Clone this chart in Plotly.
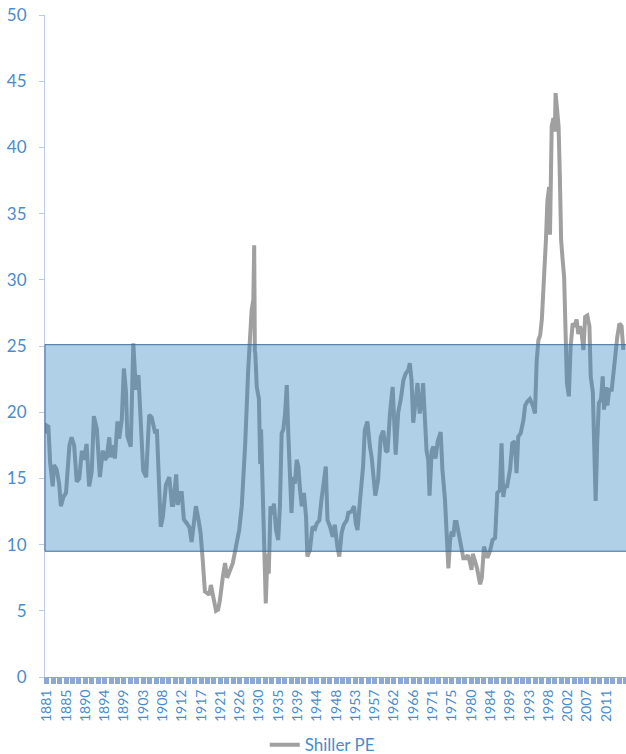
import plotly.graph_objects as go

# Shiller cyclically adjusted P/E, decimal year -> ratio
years = [
    1881.0, 1881.3, 1881.8, 1882.2, 1882.8, 1883.1, 1883.7, 1884.0, 1884.3, 1884.7,
    1885.3, 1885.9, 1886.7, 1887.2, 1887.8, 1888.4, 1889.0, 1889.6, 1890.1, 1890.7,
    1891.3, 1891.9, 1892.4, 1893.1, 1893.8, 1894.5, 1895.0, 1895.4, 1896.0, 1896.3,
    1896.8, 1897.3, 1897.9, 1898.3, 1898.9, 1899.4, 1899.9, 1900.2, 1901.0, 1901.6,
    1902.2, 1902.8, 1903.2, 1903.9, 1904.6, 1905.3, 1905.9, 1906.4, 1906.7, 1907.1,
    1907.4, 1908.0, 1908.5, 1909.2, 1910.0, 1910.6, 1910.9, 1911.6, 1911.95, 1912.5,
    1912.9, 1913.4, 1914.1, 1914.7, 1915.2, 1915.8, 1916.2, 1916.8, 1917.3, 1917.8,
    1918.3, 1919.0, 1919.3, 1919.7, 1920.3, 1920.9, 1921.4, 1921.8, 1922.5, 1923.0,
    1923.5, 1924.2, 1924.8, 1925.7, 1926.3, 1926.9, 1927.7, 1928.4, 1929.2, 1929.6,
    1929.8, 1929.95, 1930.05, 1930.4, 1930.9, 1931.2, 1931.4, 1931.8, 1932.2, 1932.5,
    1932.9, 1933.2, 1933.6, 1934.1, 1934.4, 1934.9, 1935.4, 1935.8, 1936.2, 1936.6,
    1937.0, 1937.4, 1937.75, 1938.15, 1938.5, 1938.9, 1939.3, 1939.7, 1940.1, 1940.5,
    1940.9, 1941.4, 1941.9, 1942.2, 1942.8, 1943.4, 1944.0, 1944.4, 1945.0, 1945.5,
    1946.1, 1946.5, 1946.9, 1947.5, 1948.1, 1948.6, 1949.2, 1949.65, 1950.2, 1950.7,
    1951.4, 1951.75, 1952.5, 1953.1, 1953.5, 1953.9, 1954.5, 1955.2, 1955.6, 1956.2,
    1956.8, 1957.2, 1958.05, 1958.7, 1959.3, 1959.9, 1960.5, 1960.9, 1961.5, 1962.1,
    1962.8, 1963.4, 1964.0, 1964.6, 1965.1, 1965.75, 1966.1, 1966.5, 1966.9, 1967.5,
    1967.9, 1968.4, 1968.9, 1969.2, 1969.6, 1970.0, 1970.4, 1970.7, 1971.2, 1971.6,
    1972.1, 1972.6, 1973.3, 1973.7, 1974.3, 1974.7, 1975.1, 1975.5, 1975.9, 1976.25,
    1976.6, 1977.0, 1977.6, 1978.2, 1978.6, 1979.1, 1979.6, 1980.1, 1980.5, 1980.8,
    1981.3, 1981.8, 1982.5, 1982.9, 1983.4, 1984.2, 1984.8, 1985.4, 1986.0, 1986.5,
    1987.1, 1987.5, 1987.9, 1988.3, 1988.8, 1989.5, 1990.0, 1990.6, 1991.0, 1991.4,
    1991.95, 1992.6, 1993.0, 1993.5, 1994.1, 1994.8, 1995.3, 1995.7, 1996.1, 1996.5,
    1996.9, 1997.2, 1997.6, 1997.85, 1998.2, 1998.6, 1998.8, 1999.2, 1999.6, 1999.95,
    2000.1, 2000.5, 2000.8, 2001.1, 2001.4, 2001.75, 2002.1, 2002.3, 2002.5, 2002.75,
    2003.2, 2003.6, 2004.1, 2004.6, 2005.0, 2005.4, 2005.8, 2006.2, 2006.6, 2007.0,
    2007.5, 2008.0, 2008.3, 2008.8, 2009.1, 2009.45, 2009.8, 2010.2, 2010.7, 2011.1,
    2011.4, 2011.9, 2012.2, 2012.6, 2013.2, 2013.6, 2014.0, 2014.5, 2015.0, 2015.5,
    2015.9,
]
shiller_pe = [
    18.4, 19.0, 18.9, 16.2, 14.4, 16.0, 15.7, 15.2, 14.6, 12.9,
    13.6, 13.9, 17.5, 18.1, 17.5, 14.75, 15.0, 17.1, 16.4, 17.6,
    14.4, 15.5, 19.7, 18.7, 15.1, 17.1, 16.4, 16.6, 18.1, 16.6,
    17.5, 16.5, 19.3, 18.0, 19.4, 23.3, 21.5, 18.2, 17.4, 25.2,
    21.7, 22.8, 19.7, 15.6, 15.1, 19.8, 19.6, 18.9, 18.4, 18.7,
    16.2, 11.35, 12.1, 14.5, 15.1, 13.0, 13.0, 15.3, 13.0, 13.9,
    13.9, 11.9, 11.6, 11.3, 10.2, 11.6, 12.9, 11.9, 10.85, 8.8,
    6.45, 6.3, 6.2, 6.95, 6.1, 5.0, 5.1, 5.8, 7.6, 8.6,
    7.5, 8.1, 8.6, 10.1, 11.1, 12.9, 17.6, 23.2, 27.7, 28.5,
    32.6, 24.6, 24.5, 21.9, 21.0, 16.1, 18.7, 13.9, 9.3, 5.56,
    9.3, 7.8, 12.9, 12.3, 13.1, 11.1, 10.35, 12.9, 18.4, 18.7,
    19.9, 22.05, 18.4, 14.4, 12.4, 15.1, 14.6, 16.4, 15.9, 14.1,
    12.9, 13.9, 12.1, 9.1, 9.6, 11.35, 11.2, 11.6, 11.85, 13.4,
    14.9, 15.9, 11.85, 11.35, 10.6, 11.5, 9.85, 9.1, 10.9, 11.5,
    11.85, 12.4, 12.5, 12.9, 11.6, 11.1, 13.4, 15.9, 18.65, 19.3,
    17.4, 16.6, 13.7, 14.9, 18.1, 18.6, 17.1, 17.0, 20.0, 21.9,
    16.8, 20.0, 21.0, 22.4, 22.9, 23.2, 23.7, 22.4, 19.2, 21.4,
    22.2, 19.9, 20.9, 22.2, 19.9, 17.1, 16.4, 13.7, 17.1, 17.4,
    16.5, 17.8, 18.5, 15.7, 13.4, 11.35, 8.2, 10.35, 11.0, 10.6,
    11.7, 11.7, 10.6, 9.85, 8.96, 8.96, 9.2, 8.7, 8.1, 9.3,
    8.85, 8.2, 7.0, 7.5, 9.85, 9.0, 9.5, 10.35, 10.5, 13.9,
    14.1, 17.65, 13.6, 14.4, 14.4, 15.7, 17.65, 17.8, 15.4, 18.15,
    18.4, 19.4, 20.5, 20.8, 21.0, 20.5, 19.9, 23.9, 25.45, 25.8,
    27.0, 28.7, 31.5, 33.0, 36.0, 37.0, 33.4, 41.6, 42.2, 41.2,
    44.1, 43.0, 41.6, 37.8, 33.0, 31.5, 30.2, 27.7, 25.2, 22.2,
    21.2, 24.9, 26.7, 26.5, 27.0, 25.9, 26.5, 25.9, 24.7, 27.2,
    27.3, 26.5, 22.7, 21.5, 17.65, 13.3, 17.65, 20.7, 21.0, 22.7,
    20.2, 21.9, 20.5, 21.7, 21.7, 23.0, 24.45, 25.7, 26.7, 26.5,
    24.7,
]

# Category labels shown along the bottom axis (one every 54 months)
tick_labels = [
    "1881", "1885", "1890", "1894", "1899", "1903", "1908", "1912", "1917", "1921",
    "1926", "1930", "1935", "1939", "1944", "1948", "1953", "1957", "1962", "1966",
    "1971", "1975", "1980", "1984", "1989", "1993", "1998", "2002", "2007", "2011",
]

# Shaded "normal range" band
band_low = 9.5
band_high = 25.1

blue_text = "#4A8CCB"
axis_blue = "#B9CBE4"
tick_positions = [1881.4 + 4.5 * i for i in range(len(tick_labels))]

fig = go.Figure()
fig.add_trace(go.Scatter(
    x=years, y=shiller_pe, mode="lines", name="Shiller PE",
    line=dict(color="#A0A0A0", width=4),
))

fig.add_shape(
    type="rect", layer="above",
    xref="paper", x0=0, x1=1.01,
    yref="y", y0=band_low, y1=band_high,
    fillcolor="rgba(41,128,193,0.37)",
    line=dict(color="#3A6E9E", width=1),
)

fig.update_layout(
    width=626, height=754,
    margin=dict(l=45, r=0, t=15, b=77, autoexpand=False),
    paper_bgcolor="white", plot_bgcolor="white",
    font=dict(family="Lato, sans-serif", color=blue_text),
    showlegend=True,
    legend=dict(
        orientation="h", x=0.478, xanchor="center", y=-0.103, yanchor="middle",
        font=dict(size=17, color=blue_text),
    ),
)

fig.update_xaxes(
    range=[1881, 2016.53], automargin=False,
    tickmode="array", tickvals=tick_positions, ticktext=tick_labels,
    tickangle=-90, tickfont=dict(size=14, color=blue_text),
    ticks="outside", ticklen=6, tickwidth=5, tickcolor="#8EA8D4",
    minor=dict(ticks="outside", tickmode="linear", tick0=1881.4, dtick=1.5,
               ticklen=6, tickwidth=5, tickcolor="#8EA8D4"),
    showline=True, linecolor="#8EA8D4", linewidth=1,
    showgrid=False, zeroline=False,
)

fig.update_yaxes(
    range=[0, 50], dtick=5, tick0=0, automargin=False,
    tickfont=dict(size=17, color=blue_text),
    ticks="outside", ticklen=5, tickcolor=axis_blue,
    ticklabelstandoff=9,
    showline=True, linecolor=axis_blue, linewidth=1,
    showgrid=False, zeroline=False,
)

fig.write_html("out.html")
